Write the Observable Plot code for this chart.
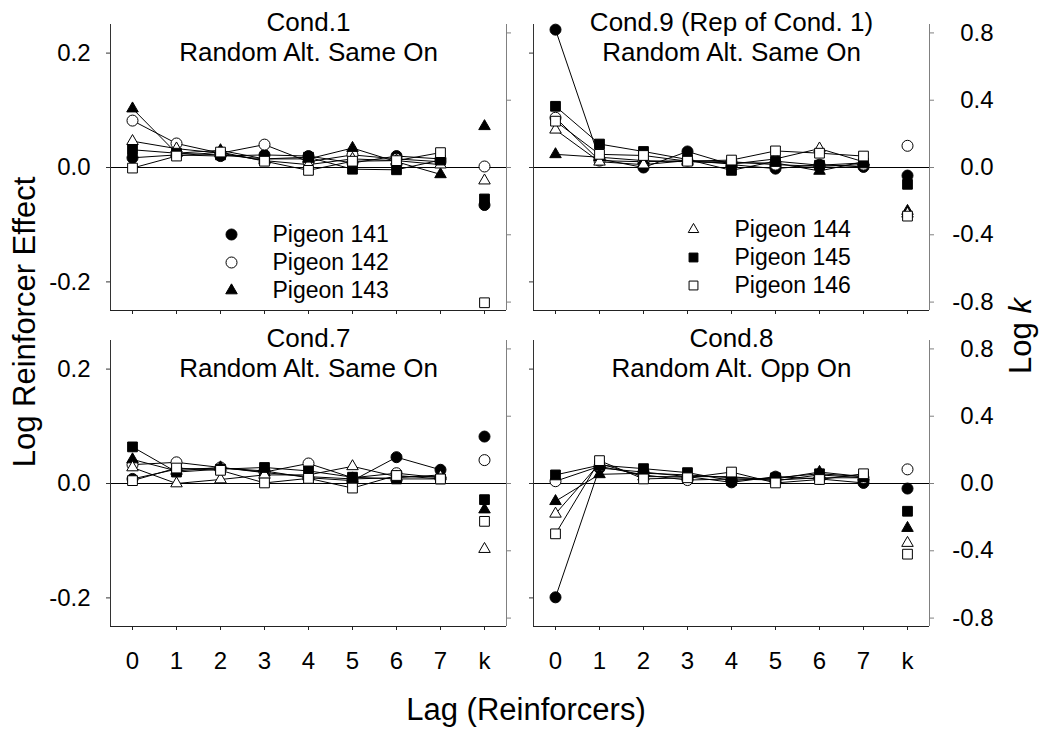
<!DOCTYPE html>
<html><head><meta charset="utf-8">
<script src="https://cdn.jsdelivr.net/npm/d3@7"></script>
<script src="https://cdn.jsdelivr.net/npm/@observablehq/plot@0.6"></script>
<style>
body{margin:0;background:#fff;}
#chart{position:relative;width:1044px;height:733px;background:#fff;font-family:"Liberation Sans",Arial,Helvetica,sans-serif;color:#000;overflow:hidden;}
.abs{position:absolute;}
.lab{position:absolute;font-size:31px;line-height:1;white-space:nowrap;}
</style></head><body><div id="chart"></div>
<script>
// ---------- data ----------
const pigeons = ["Pigeon 141","Pigeon 142","Pigeon 143","Pigeon 144","Pigeon 145","Pigeon 146"];
const lags = [0,1,2,3,4,5,6,7];
const xTickLabels = ["0","1","2","3","4","5","6","7","k"];
const leftTicks = [-0.2, 0, 0.2];
const rightTicks = [-0.8, -0.4, 0, 0.4, 0.8];
const leftDomain = [-0.25, 0.25];
const rightDomain = [-0.85, 0.85];
const titles = ["Cond.1\nRandom Alt. Same On", "Cond.9 (Rep of Cond. 1)\nRandom Alt. Same On",
                "Cond.7\nRandom Alt. Same On", "Cond.8\nRandom Alt. Opp On"];

// rows: pigeons 141..146, columns: lag 0..7 (log reinforcer effect)
const cond1Lag = [
  [0.017, 0.022, 0.020, 0.022, 0.020, 0.008, 0.020, 0.015],
  [0.082, 0.042, 0.025, 0.040, 0.010, 0.022, 0.015, 0.010],
  [0.103, 0.025, 0.030, 0.015, 0.015, 0.034, 0.010, -0.012],
  [0.046, 0.033, 0.025, 0.012, 0.005, 0.015, 0.012, 0.005],
  [0.031, 0.025, 0.022, 0.015, 0.018, -0.003, -0.004, 0.013],
  [-0.001, 0.020, 0.027, 0.011, -0.005, 0.011, 0.012, 0.026]
];
const cond1K = [-0.223, 0.006, 0.245, -0.078, -0.187, -0.804];

const cond9Lag = [
  [0.241, 0.015, 0.000, 0.028, 0.005, -0.002, 0.005, 0.001],
  [0.087, 0.012, 0.010, 0.012, 0.010, 0.005, 0.002, 0.005],
  [0.023, 0.018, 0.012, 0.010, 0.008, 0.008, -0.006, 0.010],
  [0.066, 0.010, 0.005, 0.012, 0.006, 0.015, 0.033, 0.010],
  [0.107, 0.041, 0.028, 0.014, -0.005, 0.011, 0.004, 0.008],
  [0.081, 0.023, 0.021, 0.011, 0.013, 0.029, 0.025, 0.020]
];
const cond9K = [-0.048, 0.129, -0.259, -0.275, -0.100, -0.289];

const cond7Lag = [
  [0.008, 0.025, 0.027, 0.022, 0.010, 0.005, 0.046, 0.024],
  [0.033, 0.037, 0.028, 0.020, 0.035, 0.010, 0.018, 0.010],
  [0.042, 0.022, 0.028, 0.019, 0.012, 0.008, 0.010, 0.015],
  [0.028, 0.000, 0.007, 0.015, 0.015, 0.030, 0.012, 0.012],
  [0.064, 0.020, 0.025, 0.028, 0.022, 0.011, 0.008, 0.008],
  [0.005, 0.027, 0.023, 0.001, 0.009, -0.008, 0.014, 0.008]
];
const cond7K = [0.279, 0.139, -0.155, -0.390, -0.096, -0.225];

const cond8Lag = [
  [-0.199, 0.027, 0.020, 0.012, 0.002, 0.012, 0.008, 0.001],
  [0.004, 0.030, 0.015, 0.006, 0.008, 0.006, 0.010, 0.010],
  [-0.031, 0.016, 0.018, 0.015, 0.010, 0.008, 0.020, 0.012],
  [-0.053, 0.035, 0.012, 0.012, 0.012, 0.005, 0.015, 0.010],
  [0.015, 0.032, 0.026, 0.019, 0.005, 0.010, 0.017, 0.012],
  [-0.088, 0.040, 0.008, 0.010, 0.020, 0.001, 0.007, 0.017]
];
const cond8K = [-0.030, 0.084, -0.265, -0.354, -0.165, -0.420];

// ---------- styles ----------
const symbolRange = [d3.symbolCircle, d3.symbolCircle, d3.symbolTriangle2, d3.symbolTriangle2, d3.symbolSquare, d3.symbolSquare];
const fillStyle = {"Pigeon 141":"black","Pigeon 142":"white","Pigeon 143":"black","Pigeon 144":"white","Pigeon 145":"black","Pigeon 146":"white"};
const FONT = '"Liberation Sans", Arial, Helvetica, sans-serif';
const kRatio = rightDomain[1] / leftDomain[1];
const kIndex = xTickLabels.indexOf("k");
const xDomain = [-0.5, xTickLabels.length - 0.5];

const chart = document.getElementById("chart");
function place(el, left, top) {
  const d = document.createElement("div");
  d.className = "abs"; d.style.left = left + "px"; d.style.top = top + "px";
  d.appendChild(el); chart.appendChild(d);
}

function panel({lagData, kData, title, showLeft, showRight, showBottom, mTop, mBottom, mLeft, mRight}) {
  const pts = [];
  pigeons.forEach((p, i) => lags.forEach((l, j) => pts.push({pigeon: p, lag: l, value: lagData[i][j]})));
  const ks = pigeons.map((p, i) => ({pigeon: p, lag: kIndex, value: kData[i] / kRatio}));
  const fw = 396, fh = 286;
  return Plot.plot({
    width: mLeft + fw + mRight, height: mTop + fh + mBottom,
    marginLeft: mLeft, marginRight: mRight, marginTop: mTop, marginBottom: mBottom,
    style: {fontFamily: FONT, background: "none", overflow: "visible", color: "black"},
    x: {domain: xDomain, label: null},
    y: {domain: leftDomain, label: null},
    symbol: {domain: pigeons, range: symbolRange},
    marks: [
      Plot.ruleY([0], {stroke: "black", strokeWidth: 1}),
      Plot.ruleX([xDomain[0]], {stroke: "#333", strokeWidth: 1}),
      Plot.ruleX([xDomain[1]], {stroke: "#808080", strokeWidth: 1}),
      Plot.ruleY([leftDomain[0]], {stroke: "#222", strokeWidth: 1}),
      Plot.axisY({anchor: "left", label: null, ticks: leftTicks, tickSize: 4, tickPadding: 16, fontSize: 24, stroke: "#333",
        tickFormat: showLeft ? d => d.toFixed(1) : () => ""}),
      Plot.axisY({anchor: "right", label: null, ticks: rightTicks.map(v => v / kRatio), tickSize: 4, tickPadding: 60, textAnchor: "end",
        fontSize: 24, stroke: "#808080", tickFormat: showRight ? d => (d * kRatio).toFixed(1) : () => ""}),
      Plot.axisX({anchor: "bottom", label: null, ticks: d3.range(xTickLabels.length), tickSize: 4, tickPadding: 21, fontSize: 24, stroke: "#222",
        tickFormat: showBottom ? i => xTickLabels[i] : () => ""}),
      Plot.line(pts, {x: "lag", y: "value", z: "pigeon", stroke: "black", strokeWidth: 1}),
      Plot.dot(pts.concat(ks), {x: "lag", y: "value", symbol: "pigeon", fill: d => fillStyle[d.pigeon], stroke: "black", strokeWidth: 1, r: 5.5}),
      Plot.text([title], {frameAnchor: "top", lineAnchor: "top", text: d => d, fontSize: 26, lineHeight: 1.13, dy: -13.9, fill: "black"})
    ]
  });
}

function legend(names, r) {
  return Plot.plot({
    width: 180, height: 90, margin: 0,
    style: {fontFamily: FONT, background: "none", overflow: "visible"},
    y: {type: "point", domain: names, range: [16, 73], padding: 0, axis: null},
    symbol: {domain: pigeons, range: symbolRange},
    marks: [
      Plot.dot(names, {y: d => d, frameAnchor: "left", dx: 10, symbol: d => d, fill: d => fillStyle[d], stroke: "black", strokeWidth: 1, r}),
      Plot.text(names, {y: d => d, frameAnchor: "left", dx: 51, text: d => d, textAnchor: "start", fontSize: 23, fill: "black"})
    ]
  });
}

place(panel({lagData: cond1Lag, kData: cond1K, title: titles[0], showLeft: true, showRight: false, showBottom: false, mTop: 24, mBottom: 14, mLeft: 110, mRight: 12}), 0, 0);
place(panel({lagData: cond9Lag, kData: cond9K, title: titles[1], showLeft: false, showRight: true, showBottom: false, mTop: 24, mBottom: 14, mLeft: 10, mRight: 115}), 523, 0);
place(panel({lagData: cond7Lag, kData: cond7K, title: titles[2], showLeft: true, showRight: false, showBottom: true, mTop: 16, mBottom: 60, mLeft: 110, mRight: 12}), 0, 324);
place(panel({lagData: cond8Lag, kData: cond8K, title: titles[3], showLeft: false, showRight: true, showBottom: true, mTop: 16, mBottom: 60, mLeft: 10, mRight: 115}), 523, 324);

place(legend(pigeons.slice(0, 3), 5.5), 221, 217);
place(legend(pigeons.slice(3, 6), 5), 683, 212);

// axis titles
function label(html, cx, cy, rot) {
  const d = document.createElement("div");
  d.className = "lab"; d.innerHTML = html;
  d.style.left = cx + "px"; d.style.top = cy + "px";
  d.style.transform = "translate(-50%,-50%)" + (rot ? " rotate(-90deg)" : "");
  chart.appendChild(d);
}
label("Log Reinforcer Effect", 24, 322, true);
label("Log <i>k</i>", 1020, 336, true);
label("Lag (Reinforcers)", 526, 709, false);
</script></body></html>
